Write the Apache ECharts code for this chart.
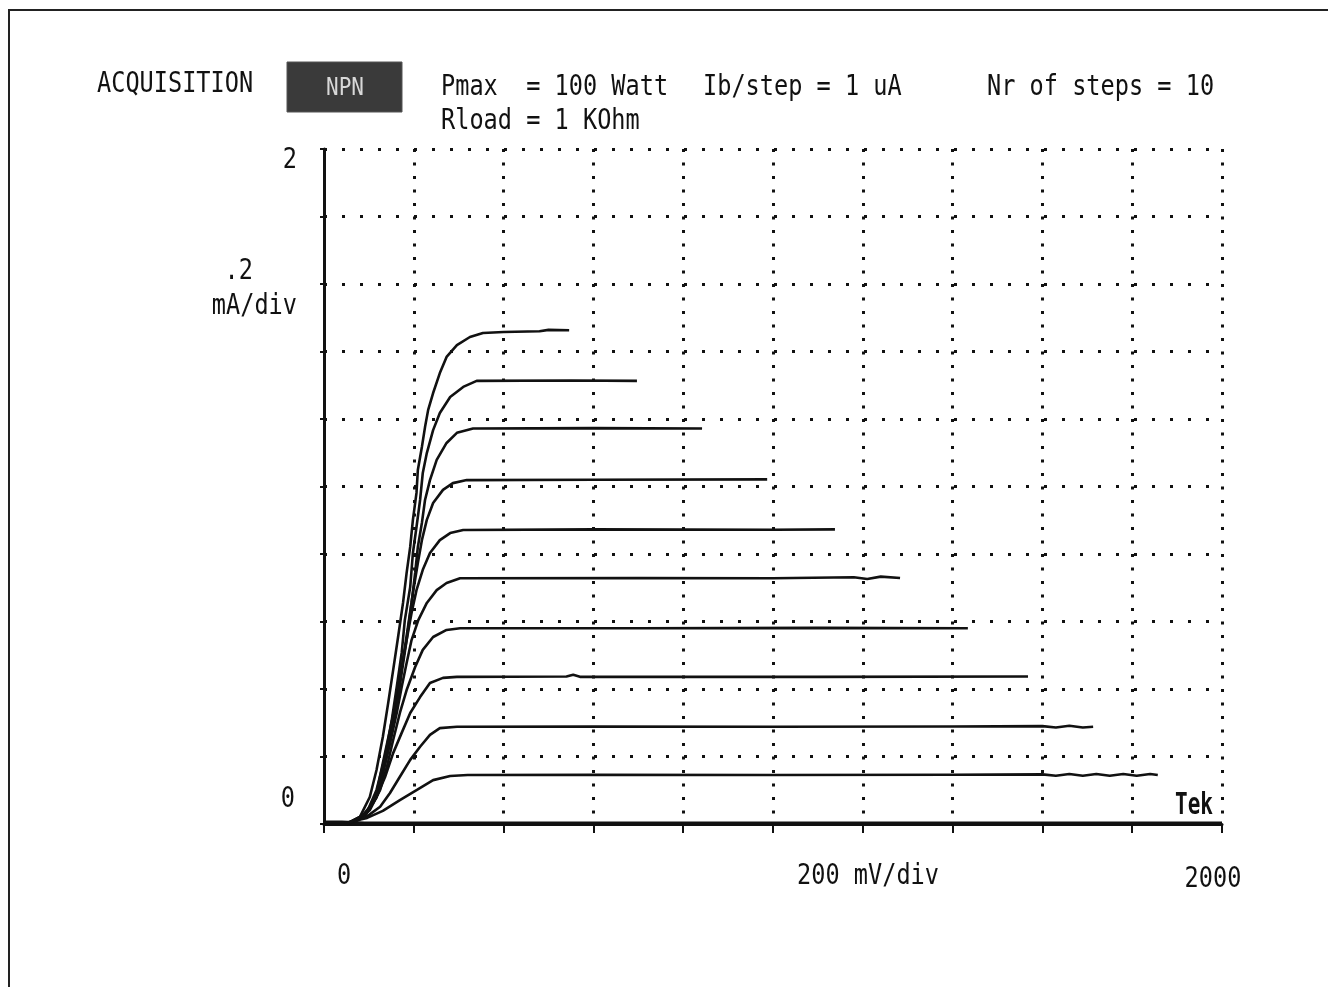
<!DOCTYPE html>
<html>
<head>
<meta charset="utf-8">
<script src="https://cdn.jsdelivr.net/npm/echarts@6/dist/echarts.min.js"></script>
<style>
html,body{margin:0;padding:0;background:#fff;}
#chart{width:1328px;height:987px;}
</style>
</head>
<body>
<div id="chart"></div>
<script>
// ---- data (collector voltage in mV, collector current in mA) ----
const ib0 = [[0,0.006],[40,0.006],[90,0.003],[2000,0.003]];
const ib1 = [[47,0.003],[96,0.018],[131,0.039],[169,0.071],[207,0.101],[243,0.130],[281,0.142],[320,0.145],[600,0.146],[1000,0.145],[1400,0.146],[1600,0.147],[1630,0.143],[1660,0.148],[1690,0.143],[1720,0.148],[1750,0.143],[1780,0.148],[1810,0.143],[1840,0.148],[1857,0.145]];
const ib2 = [[58,0.003],[95,0.022],[125,0.051],[147,0.092],[169,0.140],[192,0.190],[214,0.229],[236,0.264],[258,0.284],[296,0.288],[600,0.289],[1000,0.288],[1400,0.289],[1600,0.290],[1630,0.286],[1660,0.291],[1690,0.286],[1713,0.288]];
const ib3 = [[65,0.006],[95,0.033],[117,0.080],[136,0.139],[154,0.210],[173,0.270],[192,0.329],[214,0.376],[236,0.418],[265,0.433],[296,0.436],[540,0.437],[555,0.442],[570,0.436],[1100,0.436],[1568,0.437]];
const ib4 = [[73,0.012],[102,0.041],[125,0.101],[140,0.169],[154,0.249],[169,0.329],[184,0.397],[203,0.465],[220,0.516],[243,0.554],[273,0.575],[303,0.580],[700,0.580],[1100,0.581],[1434,0.580]];
const ib5 = [[69,0.006],[95,0.033],[117,0.080],[131,0.151],[147,0.240],[162,0.329],[173,0.406],[184,0.477],[195,0.545],[210,0.604],[229,0.655],[251,0.693],[273,0.714],[303,0.728],[700,0.729],[1000,0.728],[1180,0.731],[1210,0.726],[1240,0.733],[1283,0.729]];
const ib6 = [[62,0.006],[94,0.030],[117,0.092],[131,0.181],[147,0.279],[162,0.376],[173,0.465],[184,0.545],[195,0.625],[206,0.693],[220,0.753],[236,0.803],[258,0.841],[281,0.862],[310,0.871],[600,0.873],[1000,0.872],[1138,0.873]];
const ib7 = [[58,0.003],[91,0.024],[117,0.080],[136,0.181],[151,0.279],[165,0.388],[176,0.486],[187,0.584],[198,0.684],[209,0.773],[218,0.841],[229,0.901],[243,0.951],[265,0.990],[287,1.010],[318,1.019],[600,1.020],[987,1.021]];
const ib8 = [[53,0.003],[85,0.024],[109,0.062],[131,0.151],[147,0.240],[162,0.347],[173,0.447],[184,0.545],[195,0.655],[203,0.744],[209,0.821],[218,0.892],[225,0.960],[236,1.019],[251,1.079],[273,1.129],[296,1.159],[332,1.172],[600,1.173],[842,1.172]];
const ib9 = [[51,0.000],[76,0.018],[95,0.033],[117,0.101],[136,0.199],[151,0.308],[162,0.406],[173,0.507],[180,0.604],[192,0.702],[198,0.803],[206,0.880],[214,0.960],[220,1.040],[229,1.099],[243,1.167],[258,1.218],[281,1.265],[310,1.295],[340,1.313],[550,1.314],[697,1.313]];
const ib10 = [[51,0.000],[80,0.021],[102,0.080],[117,0.160],[131,0.258],[143,0.359],[154,0.456],[165,0.554],[176,0.655],[184,0.744],[192,0.821],[198,0.901],[206,0.981],[209,1.049],[218,1.117],[225,1.176],[232,1.227],[243,1.277],[258,1.336],[273,1.384],[296,1.419],[325,1.443],[354,1.455],[400,1.458],[480,1.460],[500,1.464],[546,1.463]];
const traces = [ib0, ib1, ib2, ib3, ib4, ib5, ib6, ib7, ib8, ib9, ib10];

const xRange = [0, 2000];   // mV
const yRange = [0, 2];      // mA
const xStep = 200, yStep = 0.2;

const headerTexts = ['ACQUISITION', 'NPN', 'Pmax  = 100 Watt', 'Ib/step = 1 uA', 'Nr of steps = 10', 'Rload = 1 KOhm'];
const yLabels = ['2', '.2', 'mA/div', '0'];
const xLabels = ['0', '200 mV/div', '2000'];

// ---- chart ----
const chart = echarts.init(document.getElementById('chart'), null, {renderer: 'canvas'});
const FONT = '"DejaVu Sans Mono", monospace';
const FS = 28, SX = 0.842;
function txt(text, x, y, align, opts) {
  opts = opts || {};
  return {
    type: 'text', x: x, y: y, scaleX: opts.sx || SX, scaleY: 1, z: 100,
    style: {
      text: text, x: 0, y: 0, textAlign: align, textVerticalAlign: 'middle',
      font: (opts.weight || 'normal') + ' ' + (opts.fs || FS) + 'px ' + FONT,
      fill: opts.fill || '#111'
    }
  };
}

const option = {
  animation: false,
  backgroundColor: '#ffffff',
  grid: {left: 324, top: 149, width: 898, height: 675, containLabel: false},
  xAxis: {
    type: 'value', min: xRange[0], max: xRange[1], interval: xStep,
    axisLine: {show: true, onZero: false, lineStyle: {color: '#111', width: 3}},
    axisTick: {show: true, inside: false, length: 9, lineStyle: {color: '#111', width: 2}},
    axisLabel: {show: false},
    splitLine: {show: true, lineStyle: {color: '#111', width: 3, type: [3, 10.5], dashOffset: 0}}
  },
  yAxis: {
    type: 'value', min: yRange[0], max: yRange[1], interval: yStep,
    axisLine: {show: true, onZero: false, lineStyle: {color: '#111', width: 3}},
    axisTick: {show: true, inside: false, length: 4, lineStyle: {color: '#111', width: 2}},
    axisLabel: {show: false},
    splitLine: {show: true, lineStyle: {color: '#111', width: 3, type: [3, 15], dashOffset: 0}}
  },
  series: traces.map((d, i) => ({
    type: 'line', name: 'Ib' + i, data: d, showSymbol: false, symbol: 'none',
    lineStyle: {color: '#111', width: i === 0 ? 3 : 2.6}, z: 10, silent: true
  })),
  graphic: [
    // frame
    {type: 'line', shape: {x1: 8, y1: 10, x2: 1328, y2: 10}, style: {stroke: '#222', lineWidth: 2}},
    {type: 'line', shape: {x1: 9, y1: 10, x2: 9, y2: 987}, style: {stroke: '#222', lineWidth: 2}},
    // NPN box
    {type: 'rect', shape: {x: 287, y: 62, width: 115, height: 50}, style: {fill: '#3a3a3a', stroke: '#555', lineWidth: 1}, z: 90},
    txt(headerTexts[0], 97, 85, 'left'),
    txt(headerTexts[1], 345, 88, 'center', {fill: '#d8d8d8', fs: 25}),
    txt(headerTexts[2], 441, 88, 'left'),
    txt(headerTexts[3], 703, 88, 'left'),
    txt(headerTexts[4], 987, 88, 'left'),
    txt(headerTexts[5], 441, 122, 'left'),
    txt(yLabels[0], 297, 161, 'right'),
    txt(yLabels[1], 253, 272, 'right'),
    txt(yLabels[2], 297, 307, 'right'),
    txt(yLabels[3], 295, 800, 'right'),
    txt(xLabels[0], 344, 877, 'center'),
    txt(xLabels[1], 868, 877, 'center'),
    txt(xLabels[2], 1213, 880, 'center'),
    txt('Tek', 1194, 806, 'center', {weight: 'bold', fs: 30, sx: 0.7})
  ]
};
chart.setOption(option);
</script>
</body>
</html>
